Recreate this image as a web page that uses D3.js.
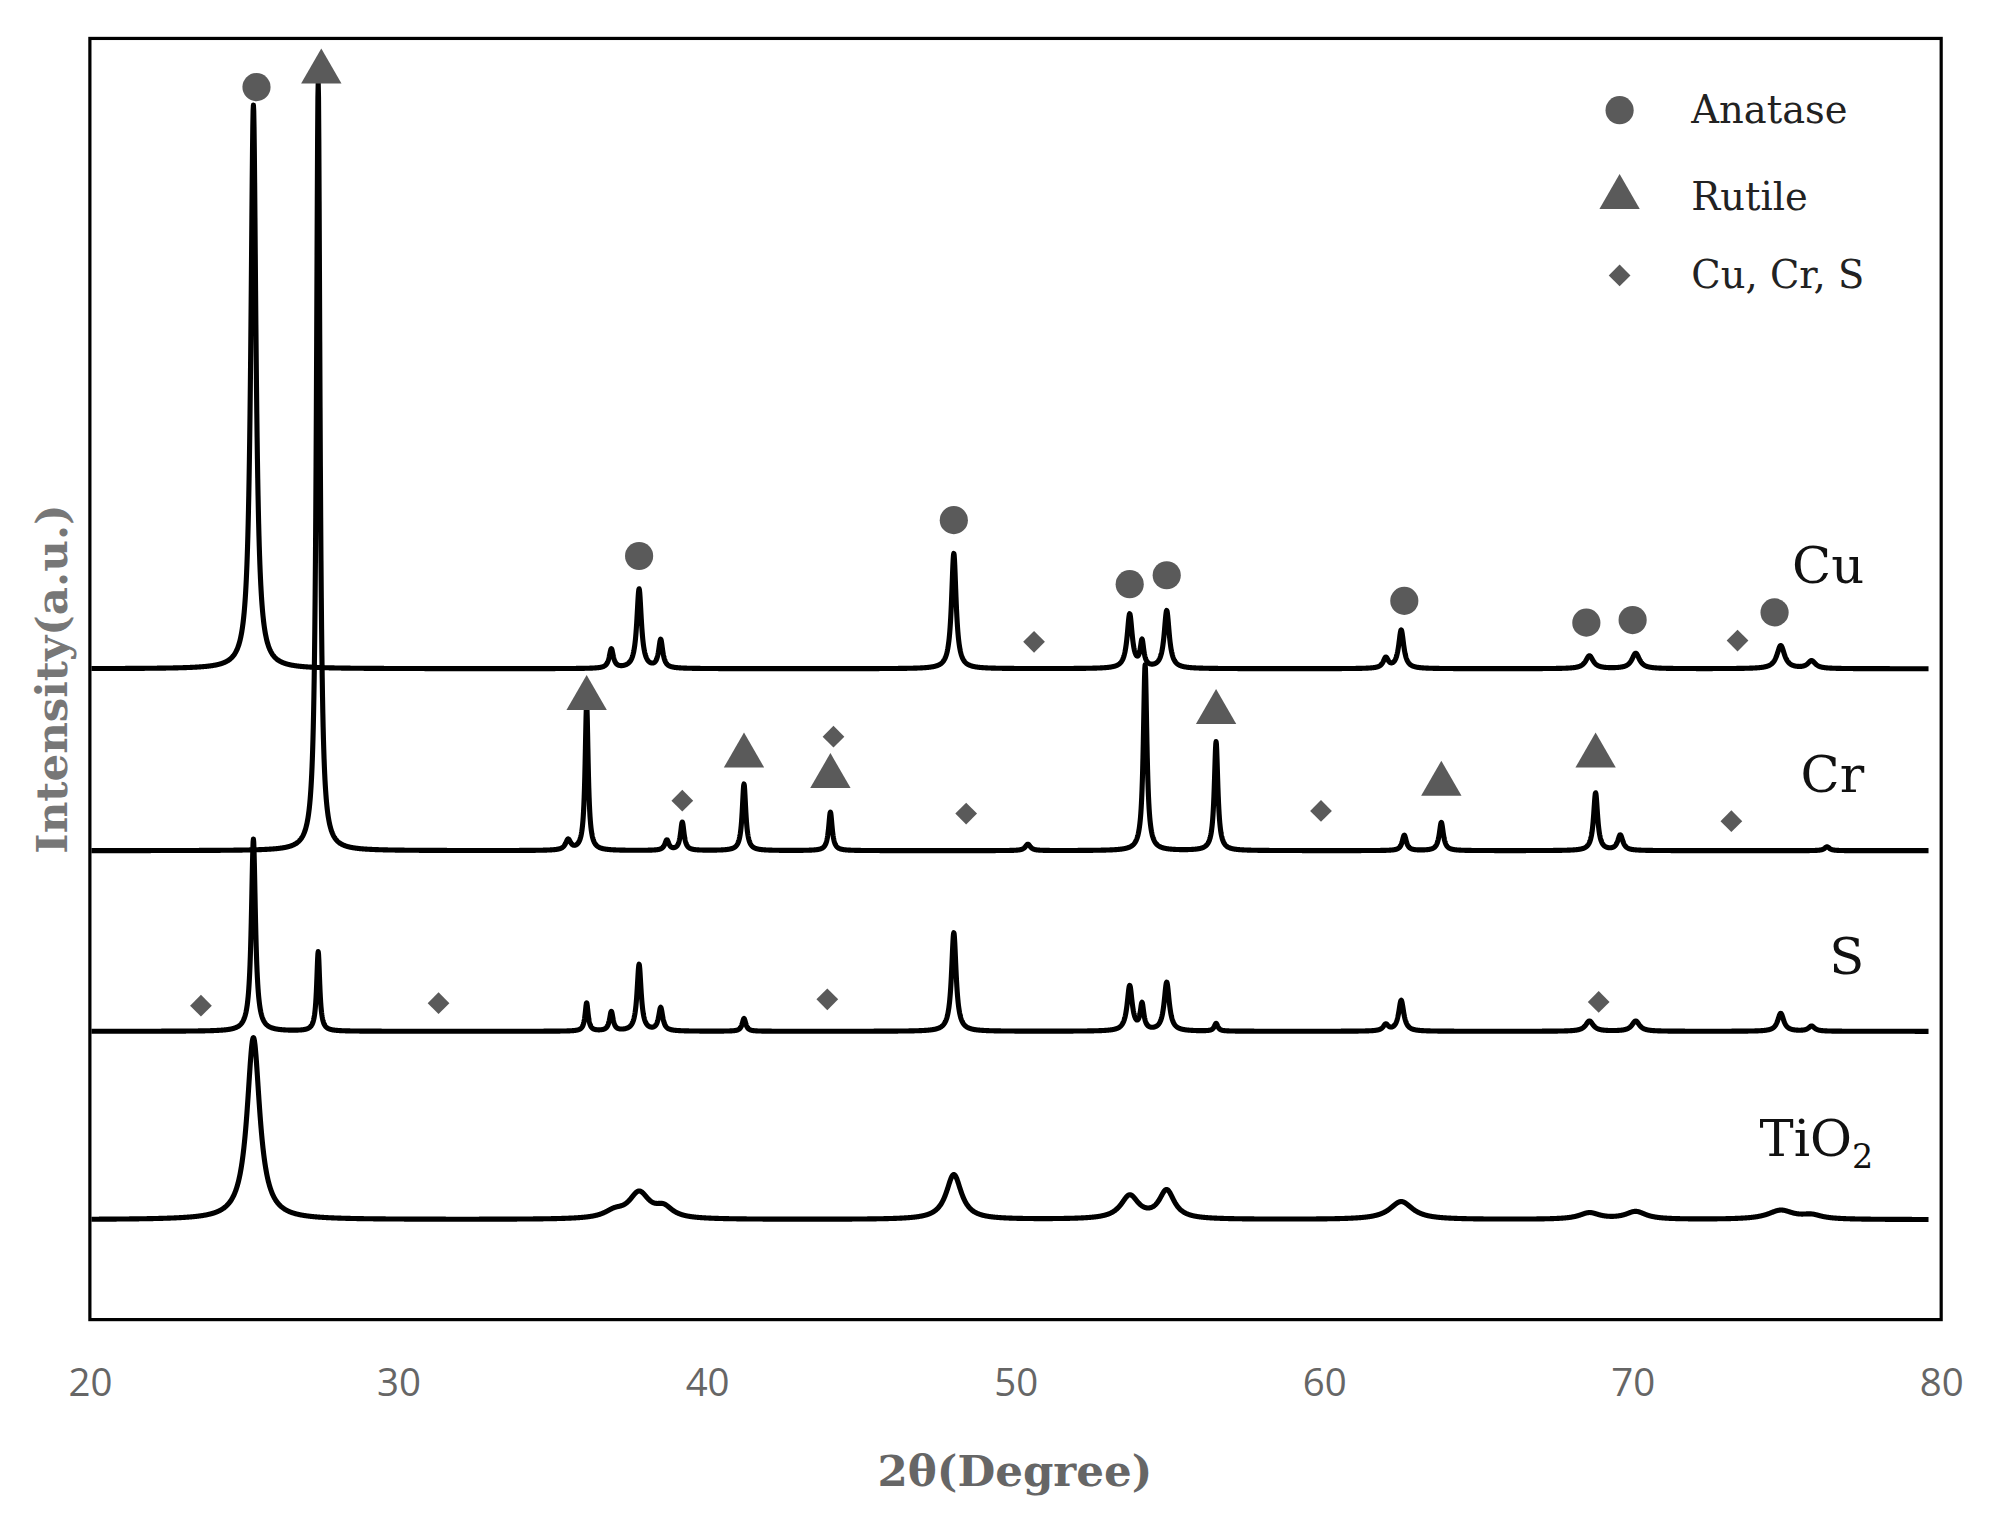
<!DOCTYPE html><html><head><meta charset="utf-8"><script src="https://cdn.jsdelivr.net/npm/d3@7"></script>
<style>body{margin:0;background:#fff}</style></head><body><svg id="c"></svg><script>
const xTicks=[20,30,40,50,60,70,80];
const seriesNames=["Cu","Cr","S","TiO2"];
const offsets=[508,366,225,78];
// peaks: [2theta, height, halfwidth]
const peaksCu=[[25.3,440,0.1],[36.9,15,0.08],[37.8,62,0.09],[38.5,22,0.08],[48.0,90,0.09],[53.7,42,0.1],[54.1,20,0.07],[54.9,45,0.1],[62.0,8,0.1],[62.5,30,0.1],[68.6,10,0.15],[70.1,12,0.15],[74.8,18,0.15],[75.8,6,0.15]];
const peaksCr=[[27.4,600,0.07],[35.5,8,0.1],[36.1,115,0.06],[38.7,8,0.08],[39.2,22,0.07],[41.2,52,0.07],[44.0,30,0.07],[50.4,5,0.1],[54.2,145,0.07],[56.5,85,0.07],[62.6,12,0.08],[63.8,22,0.08],[68.8,45,0.08],[69.6,12,0.1],[76.3,3,0.1]];
const peaksS=[[25.3,150,0.08],[27.4,62,0.06],[36.1,22,0.06],[36.9,15,0.07],[37.8,52,0.08],[38.5,18,0.08],[41.2,10,0.07],[48.0,77,0.09],[53.7,35,0.1],[54.1,20,0.07],[54.9,38,0.1],[56.5,6,0.07],[62.0,5,0.1],[62.5,24,0.1],[68.6,8,0.15],[70.1,8,0.15],[74.8,14,0.12],[75.8,4,0.12]];
const peaksTi=[[25.3,142,0.25],[37.0,5,0.4],[37.8,20,0.4],[38.6,8,0.35],[48.0,35,0.3],[53.7,18,0.35],[54.9,22,0.3],[62.5,14,0.45],[68.6,5,0.4],[70.1,6,0.4],[74.8,7,0.5],[75.8,3,0.4]];
const allPeaks=[peaksCu,peaksCr,peaksS,peaksTi];
const anatase=[[25.4,962],[37.8,596],[48.0,624],[53.7,574],[54.9,581],[62.6,561],[68.5,544],[70.0,546],[74.6,552]];
const rutile=[[27.5,974],[36.1,485],[41.2,440],[44.0,424],[56.5,474],[63.8,418],[68.8,440]];
const others=[[50.6,529],[73.4,530],[39.2,405],[44.1,455],[48.4,395],[59.9,397],[73.2,389],[23.6,245],[31.3,247],[43.9,250],[68.9,248]];
const legendItems=[["circle","Anatase"],["triangle","Rutile"],["diamond","Cu, Cr, S"]];

const W=1567,H=1195;
const svg=d3.select("#c").attr("width",2008).attr("height",1531).attr("viewBox",`0 0 ${W} ${H}`);
const x=d3.scaleLinear().domain([20,80]).range([70,1515]);
const y=d3.scaleLinear().domain([0,1000]).range([1030,30]);
const xs=d3.range(20.05,79.6,0.01);
const line=d3.line().x(d=>x(d[0])).y(d=>y(d[1]));
allPeaks.forEach((pk,i)=>{
  const pts=xs.map(t=>[t,offsets[i]+d3.sum(pk,p=>p[1]/(1+((t-p[0])/p[2])**2))]);
  svg.append("path").attr("d",line(pts)).attr("fill","none").attr("stroke","#000").attr("stroke-width",4).attr("stroke-linejoin","round");
});
svg.append("rect").attr("x",70).attr("y",30).attr("width",1445).attr("height",1000).attr("fill","none").attr("stroke","#000").attr("stroke-width",2.5);
const ax=svg.append("g").attr("transform","translate(0,1030)").call(d3.axisBottom(x).tickValues(xTicks).tickSize(0).tickPadding(38));
ax.select(".domain").remove();
ax.selectAll("text").attr("font-family","Open Sans, sans-serif").attr("font-size",30).attr("fill","#666");
const col="#5a5a5a";
const diamond={draw(ctx,s){const r=Math.sqrt(s)/2*1.2;ctx.moveTo(0,-r);ctx.lineTo(r,0);ctx.lineTo(0,r);ctx.lineTo(-r,0);ctx.closePath();}};
const sym={circle:d3.symbol(d3.symbolCircle,380),triangle:d3.symbol(d3.symbolTriangle,430),diamond:d3.symbol(diamond,200)};
function draw(arr,s){svg.append("g").selectAll("path").data(arr).join("path").attr("d",sym[s]).attr("fill",col).attr("transform",d=>`translate(${x(d[0])},${y(d[1])})`);}
draw(anatase,"circle");draw(rutile,"triangle");draw(others,"diamond");
legendItems.forEach((d,i)=>{const yy=[86,154,215][i];
  svg.append("path").attr("d",sym[d[0]]).attr("fill",col).attr("transform",`translate(1264,${yy})`);
  svg.append("text").attr("x",1320).attr("y",yy+10).text(d[1]).attr("font-family","DejaVu Serif, serif").attr("font-size",30).attr("fill","#222");});
const serif="DejaVu Serif, serif";
const labY=[455,618,760,902];
seriesNames.forEach((n,i)=>{const t=svg.append("text").attr("x",1455).attr("y",labY[i]).attr("text-anchor","end").attr("font-family",serif).attr("font-size",40).attr("fill","#111");
  if(n==="TiO2"){t.attr("x",1462);t.append("tspan").text("TiO");t.append("tspan").text("2").attr("font-size",26).attr("dy",10);} else t.text(n);});
svg.append("text").attr("x",792).attr("y",1160).attr("text-anchor","middle").attr("font-family",serif).attr("font-weight","bold").attr("font-size",34).attr("fill","#666").text("2θ(Degree)");
svg.append("text").attr("transform","translate(52,530) rotate(-90)").attr("text-anchor","middle").attr("font-family",serif).attr("font-weight","bold").attr("font-size",34).attr("fill","#777").text("Intensity(a.u.)");
</script></body></html>
